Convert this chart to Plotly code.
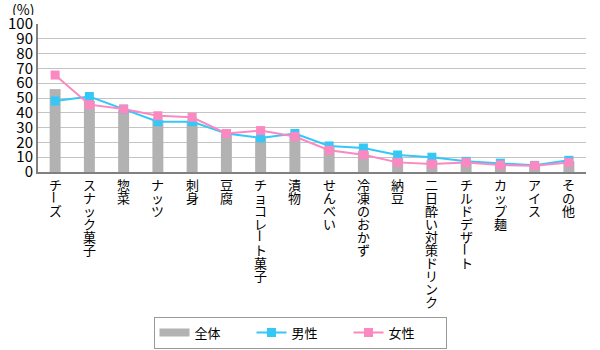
import plotly.graph_objects as go

categories = ["チーズ", "スナック菓子", "惣菜", "ナッツ", "刺身", "豆腐", "チョコレート菓子", "漬物",
              "せんべい", "冷凍のおかず", "納豆", "二日酔い対策ドリンク", "チルドデザート", "カップ麺", "アイス", "その他"]
total = [56, 48, 42, 35, 34, 26, 24, 25, 16.5, 14, 9.5, 7.7, 7, 5.6, 4.5, 7.2]
male = [48, 51, 42.5, 34, 34, 26, 23, 26, 17.6, 16.2, 11.5, 10, 7.2, 6, 4.5, 7.9]
female = [65.5, 45.5, 42.5, 38, 37, 26, 28, 24, 14.7, 11.7, 6.5, 5.4, 6.5, 4.7, 4.3, 6.5]
yticks = list(range(0, 101, 10))

FONT = "Noto Sans CJK JP"
GRAY = "#b2b2b2"
BLUE = "#35c8f6"
PINK = "#fb88c0"

fig = go.Figure()
fig.add_trace(go.Bar(x=categories, y=total, name="全体", marker=dict(color=GRAY, line=dict(width=0)),
                     width=0.32, showlegend=False))
# legend swatch for the bar series (wide grey bar, as in the original legend)
fig.add_trace(go.Scatter(x=[None], y=[None], name="全体", mode="lines",
                         line=dict(color=GRAY, width=8), hoverinfo="skip"))
fig.add_trace(go.Scatter(x=categories, y=male, name="男性", mode="lines+markers",
                         line=dict(color=BLUE, width=2),
                         marker=dict(symbol="square", size=9, color=BLUE)))
fig.add_trace(go.Scatter(x=categories, y=female, name="女性", mode="lines+markers",
                         line=dict(color=PINK, width=2),
                         marker=dict(symbol="square", size=9, color=PINK)))

# vertical (tategaki) category labels, one character per row; the long-vowel mark is turned upright
annotations = []
for cat in categories:
    for k, ch in enumerate(cat):
        annotations.append(dict(
            x=cat, xref="x", y=0, yref="paper", yanchor="middle", xanchor="center",
            yshift=-(12 + 13 * k), text=ch, showarrow=False,
            textangle=90 if ch == "ー" else 0,
            font=dict(family=FONT, size=13, color="#000000")))
annotations.append(dict(x=0, xref="paper", xshift=-27, xanchor="left", y=1, yref="paper",
                        yshift=16, yanchor="middle", text="(%)", showarrow=False,
                        height=13, borderpad=0,
                        font=dict(family=FONT, size=14, color="#000000")))

fig.update_layout(
    width=600, height=350,
    margin=dict(l=38, r=14, t=24, b=178, autoexpand=False),
    paper_bgcolor="white", plot_bgcolor="white",
    font=dict(family=FONT, size=13, color="#000000"),
    showlegend=True,
    legend=dict(orientation="h", x=0.5, xref="container", xanchor="center",
                y=1.5 / 350, yref="container", yanchor="bottom",
                bordercolor="#999999", borderwidth=1, bgcolor="white",
                font=dict(family=FONT, size=13), entrywidth=52, traceorder="normal"),
    annotations=annotations,
)
fig.update_xaxes(showticklabels=False, showline=True, linecolor="#808080", linewidth=2,
                 showgrid=False, ticks="", range=[-0.5, len(categories) - 0.5])
fig.update_yaxes(range=[0, 100], tickvals=yticks, ticktext=[str(v) for v in yticks],
                 showline=True, linecolor="#808080", linewidth=2, showgrid=True,
                 gridcolor="#c4c4c4", gridwidth=1, zeroline=False, ticks="",
                 tickfont=dict(family=FONT, size=15, color="#000000"))

fig.write_html("out.html")
